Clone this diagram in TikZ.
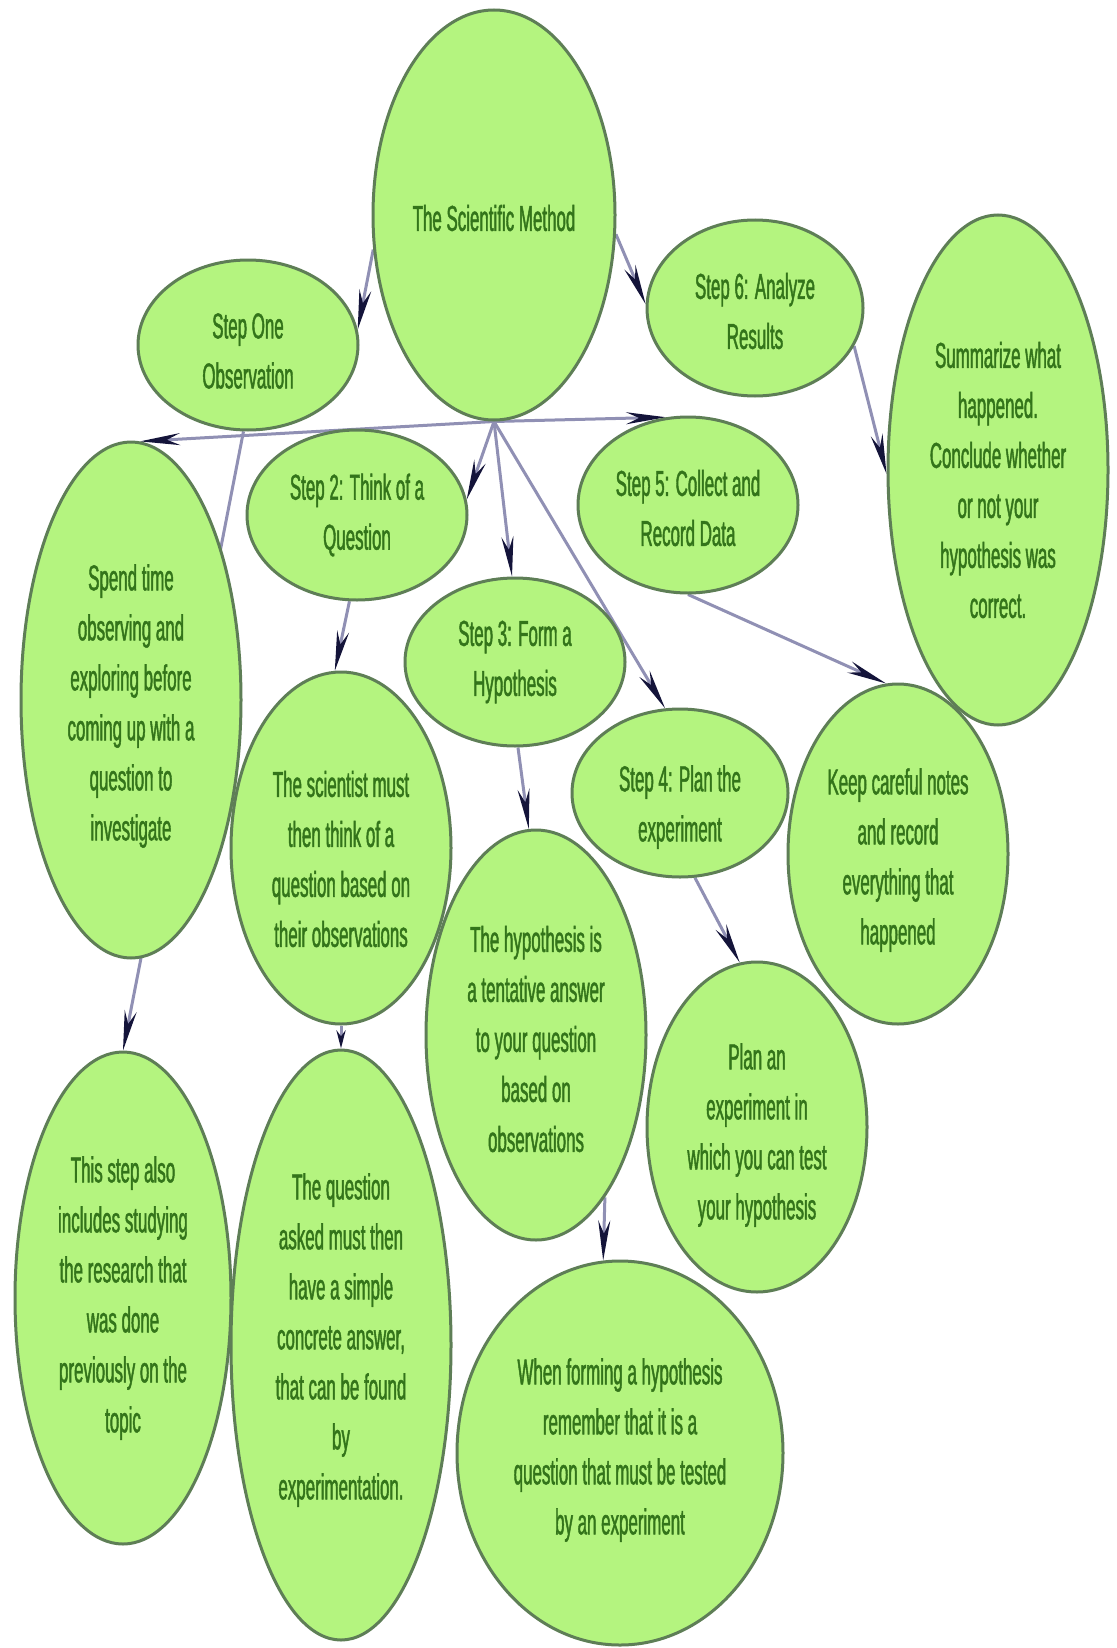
\documentclass[tikz,border=0pt]{standalone}
\usepackage{fontspec}
\newfontfamily\diagfont[FakeStretch=0.47,FakeBold=1.2]{Liberation Sans}
\usetikzlibrary{shapes.geometric,arrows.meta}
\pgfdeclarelayer{bg}
\pgfsetlayers{bg,main}
\definecolor{limefill}{HTML}{B4F47F}
\definecolor{limeedge}{HTML}{5E7E56}
\definecolor{txtgreen}{HTML}{33741A}
\definecolor{linkc}{HTML}{9090B4}
\definecolor{headc}{HTML}{14143A}
\begin{document}
\begin{tikzpicture}[x=1pt,y=-1pt,
  ell/.style={ellipse, draw=limeedge, line width=3pt, fill=limefill, inner sep=0pt},
  txt/.style={align=center, text=txtgreen, font=\diagfont\fontsize{36}{50}\selectfont, inner sep=0pt},
  link/.style={draw=linkc, line width=3pt, -{Stealth[length=40pt,width=12pt,color=headc]}},
  shortlink/.style={draw=linkc, line width=3pt, -{Stealth[length=18pt,width=9pt,color=headc]}}]
\useasboundingbox (0,0) rectangle (1116,1648);

% ellipses
\node[ell, minimum width=242pt, minimum height=410pt] (sm) at (494,215) {};
\node[ell, minimum width=220pt, minimum height=170pt] (one) at (248,345) {};
\node[ell, minimum width=216pt, minimum height=176pt] (s6) at (755,308) {};
\node[ell, minimum width=220pt, minimum height=510pt] (sum) at (998,470) {};
\node[ell, minimum width=220pt, minimum height=170pt] (s2) at (357,515) {};
\node[ell, minimum width=220pt, minimum height=176pt] (s5) at (688,505) {};
\node[ell, minimum width=220pt, minimum height=516pt] (spend) at (131,700) {};
\node[ell, minimum width=220pt, minimum height=168pt] (s3) at (515,662) {};
\node[ell, minimum width=216pt, minimum height=168pt] (s4) at (680,793) {};
\node[ell, minimum width=220pt, minimum height=340pt] (keep) at (898,854) {};
\node[ell, minimum width=220pt, minimum height=352pt] (sci) at (341,848) {};
\node[ell, minimum width=220pt, minimum height=410pt] (hyp) at (536,1035) {};
\node[ell, minimum width=220pt, minimum height=330pt] (plan) at (757,1127) {};
\node[ell, minimum width=216pt, minimum height=492pt] (ts) at (123,1298) {};
\node[ell, minimum width=220pt, minimum height=590pt] (qa) at (341,1345) {};
\node[ell, minimum width=326pt, minimum height=384pt] (wf) at (620,1453) {};

% texts
\node[txt] (smt) at (494,218) {The Scientific Method};
\node[txt] (onet) at (248,351) {Step One\\Observation};
\node[txt] (s6t) at (755,311) {Step 6: Analyze\\Results};
\node[txt] (sumt) at (998,480) {Summarize what\\happened.\\Conclude whether\\or not your\\hypothesis was\\correct.};
\node[txt] (s2t) at (357,515) {Step 2: Think of a\\Question};
\node[txt] (s5t) at (688,508) {Step 5: Collect and\\Record Data};
\node[txt] (spendt) at (131,706) {Spend time\\observing and\\exploring before\\coming up with a\\question to\\investigate};
\node[txt] (s3t) at (515,662) {Step 3: Form a\\Hypothesis};
\node[txt] (s4t) at (680,807) {Step 4: Plan the\\experiment};
\node[txt] (keept) at (898,860) {Keep careful notes\\and record\\everything that\\happened};
\node[txt] (scit) at (341,859) {The scientist must\\then think of a\\question based on\\their observations};
\node[txt] (hypt) at (536,1039) {The hypothesis is\\a tentative answer\\to your question\\based on\\observations};
\node[txt] (plant) at (757,1135) {Plan an\\experiment in\\which you can test\\your hypothesis};
\node[txt] (tst) at (123,1298) {This step also\\includes studying\\the research that\\was done\\previously on the\\topic};
\node[txt] (qat) at (341,1340) {The question\\asked must then\\have a simple\\concrete answer,\\that can be found\\by\\experimentation.};
\node[txt] (wft) at (620,1450) {When forming a hypothesis\\remember that it is a\\question that must be tested\\by an experiment};

% background and connectors behind the ellipses
\begin{pgfonlayer}{bg}
\fill[white] (0,0) rectangle (1116,1648);
\draw[link] (sm.196) -- (one.8);
\draw[link] (sm.-9) -- (s6.178);
\draw[link] (s6.-21) -- (sum.182);
\draw[link] (sm.south) -- (spend.88);
\draw[link] (sm.south) -- (s5.104);
\draw[link] (sm.south) -- (s2.8);
\draw[link] (sm.south) -- (s3.92);
\draw[link] (sm.south) -- (s4.100);
\draw[link] (s5.-90) -- (keep.94);
\draw[link] (one.-93) -- (ts.90);
\draw[link] (s2.-95) -- (sci.92);
\draw[shortlink] (sci.-90) -- (qa.90);
\draw[link] (s3.-88) -- (hyp.92);
\draw[link] (s4.-80) -- (plan.96);
\draw[link] (hyp.-67) -- (wf.95);
\end{pgfonlayer}
\end{tikzpicture}
\end{document}
